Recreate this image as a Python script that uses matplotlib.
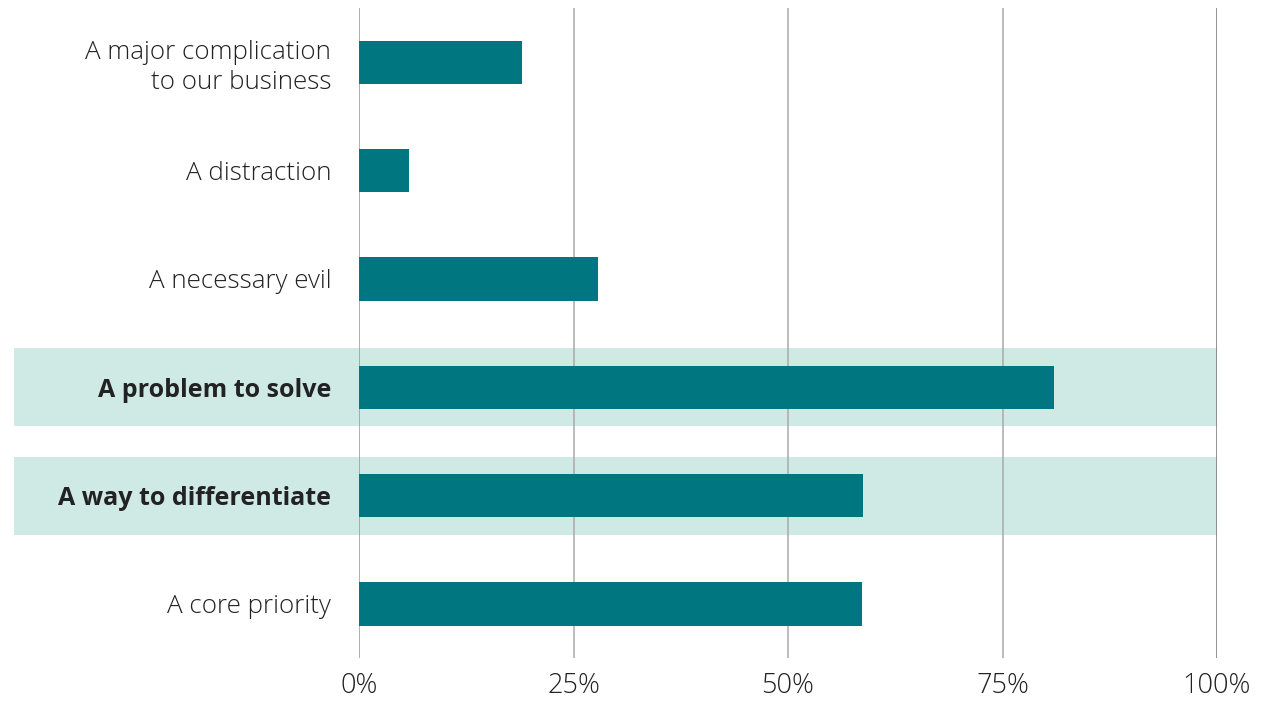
import matplotlib
matplotlib.use("Agg")
import matplotlib.pyplot as plt
from matplotlib.patches import Rectangle

categories = ["A major complication\nto our business", "A distraction", "A necessary evil",
              "A problem to solve", "A way to differentiate", "A core priority"]
values = [19.0, 5.8, 27.9, 81.0, 58.7, 58.6]
highlighted = [False, False, False, True, True, False]
xticks = [0, 25, 50, 75, 100]
xticklabels = ["0%", "25%", "50%", "75%", "100%"]

BAR = "#007681"
BAND = "#CFE9E5"
TEXT = "#222222"

plt.rcParams['font.family'] = ['Open Sans', 'DejaVu Sans']

fig = plt.figure(figsize=(12.63, 7.01), dpi=100)
ax = fig.add_axes([359/1263, 43/701, 858/1263, 650/701])

n = len(categories)
ypos = list(range(n))

# highlight bands
for y, h in zip(ypos, highlighted):
    if h:
        r = Rectangle((-0.402, y - 0.36), 1.402, 0.72, transform=ax.get_yaxis_transform(),
                      facecolor=BAND, edgecolor='none', clip_on=False, zorder=0)
        ax.add_patch(r)

# gridlines
for xt in xticks:
    col = "#777777" if xt == 100 else ("#999999" if xt == 0 else "#aaaaaa")
    ax.axvline(xt, color=col, lw=1.1, zorder=1)

ax.barh(ypos, values, height=0.4, color=BAR, zorder=2)

ax.set_xlim(0, 100)
ax.set_ylim(n - 0.5, -0.5)
ax.set_yticks(ypos)
ax.set_yticklabels(categories, color=TEXT)
for lbl, h in zip(ax.get_yticklabels(), highlighted):
    if h:
        lbl.set_fontweight('bold')
        lbl.set_fontsize(18)
    else:
        lbl.set_fontweight('light')
        lbl.set_fontsize(18.7)
    lbl.set_linespacing(1.25)
ax.set_xticks(xticks)
ax.set_xticklabels(xticklabels, fontsize=19.5, color=TEXT, fontweight='light')
ax.tick_params(axis='y', length=0, pad=20)
ax.tick_params(axis='x', length=0, pad=10)
for s in ax.spines.values():
    s.set_visible(False)
ax.set_facecolor('none')

fig.savefig("out.png", dpi=100)
